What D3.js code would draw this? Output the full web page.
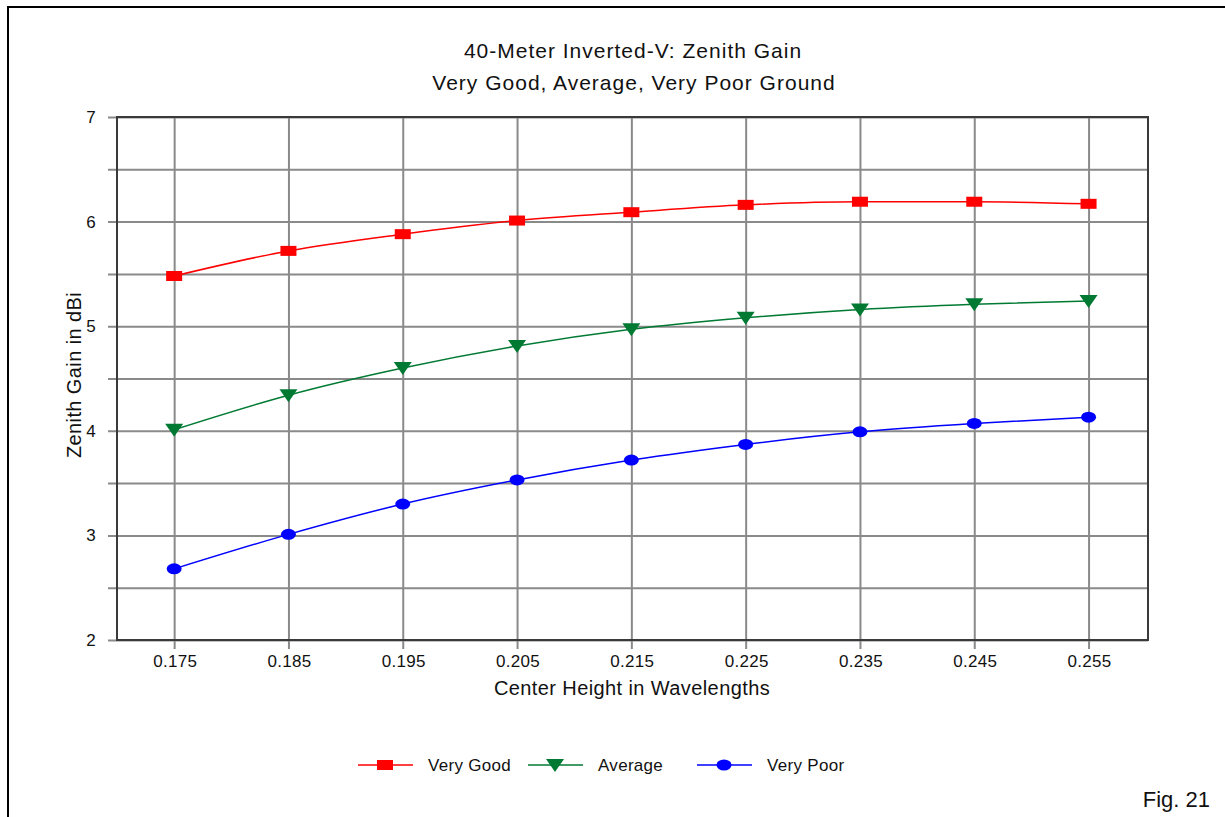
<!DOCTYPE html>
<html>
<head>
<meta charset="utf-8">
<script src="https://cdn.jsdelivr.net/npm/d3@7"></script>
<style>
  body { margin: 0; background: #fff; }
  svg { display: block; font-family: 'Liberation Sans', Arial, sans-serif; }
  .grid line { stroke: #8a8a8a; stroke-width: 2; }
  .tick-label { font-size: 17px; fill: #111; letter-spacing: 0.3px; }
</style>
</head>
<body>
<svg id="chart"></svg>
<script>
const heights = [0.175, 0.185, 0.195, 0.205, 0.215, 0.225, 0.235, 0.245, 0.255]
const veryGood = [5.48, 5.72, 5.88, 6.01, 6.09, 6.16, 6.19, 6.19, 6.17]
const average = [4.01, 4.34, 4.60, 4.81, 4.97, 5.08, 5.16, 5.21, 5.24]
const veryPoor = [2.68, 3.01, 3.30, 3.53, 3.72, 3.87, 3.99, 4.07, 4.13]
const yTicks = [2, 2.5, 3, 3.5, 4, 4.5, 5, 5.5, 6, 6.5, 7]
const yLabels = [2, 3, 4, 5, 6, 7]
const seriesNames = ['Very Good', 'Average', 'Very Poor']

const series = [
    { name: seriesNames[0], values: veryGood, color: '#ff0000', marker: 'square' },
    { name: seriesNames[1], values: average, color: '#007a33', marker: 'triangle' },
    { name: seriesNames[2], values: veryPoor, color: '#0000ff', marker: 'circle' }
]

const width = 1225
const height = 817
const plot = { left: 117, top: 117, right: 1148, bottom: 640 }

const svg = d3.select('#chart')
    .attr('width', width)
    .attr('height', height)

// outer frame (only left and top edges visible in the picture)
svg.append('path')
    .attr('d', `M8,${height + 5} L8,7 L${width + 5},7`)
    .attr('fill', 'none')
    .attr('stroke', '#000')
    .attr('stroke-width', 2)

const xScale = d3.scaleLinear()
    .domain([0.170, 0.2602])
    .range([plot.left, plot.right])

const yScale = d3.scaleLinear()
    .domain([2, 7])
    .range([plot.bottom, plot.top])

// horizontal grid lines, with small ticks sticking out left
svg.append('g')
    .attr('class', 'grid')
    .attr('transform', `translate(${plot.right},0)`)
    .call(d3.axisLeft(yScale).tickValues(yTicks).tickSize(plot.right - plot.left + 9).tickFormat(''))
    .call(g => g.select('.domain').remove())

// vertical grid lines, with small ticks below
svg.append('g')
    .attr('class', 'grid')
    .attr('transform', `translate(0,${plot.top})`)
    .call(d3.axisBottom(xScale).tickValues(heights).tickSize(plot.bottom - plot.top + 9).tickFormat(''))
    .call(g => g.select('.domain').remove())

// plot frame
svg.append('rect')
    .attr('x', plot.left)
    .attr('y', plot.top)
    .attr('width', plot.right - plot.left)
    .attr('height', plot.bottom - plot.top)
    .attr('fill', 'none')
    .attr('stroke', '#3a3a3a')
    .attr('stroke-width', 2)

// tick labels
svg.selectAll('.ylab')
    .data(yLabels)
    .enter()
    .append('text')
    .attr('class', 'tick-label')
    .attr('x', 96)
    .attr('y', d => yScale(d) + 6)
    .style('text-anchor', 'end')
    .text(d => d)

svg.selectAll('.xlab')
    .data(heights)
    .enter()
    .append('text')
    .attr('class', 'tick-label')
    .attr('x', d => xScale(d) + 1)
    .attr('y', 667)
    .style('text-anchor', 'middle')
    .text(d => d3.format('.3f')(d))

// titles
const title = svg.append('text')
    .style('text-anchor', 'middle')
    .style('font-size', '21px')
    .style('letter-spacing', '1px')
    .attr('fill', '#111')
title.append('tspan').attr('x', 633).attr('y', 58).text('40-Meter Inverted-V: Zenith Gain')
title.append('tspan').attr('x', 634).attr('y', 90).text('Very Good, Average, Very Poor Ground')

svg.append('text')
    .attr('x', 632)
    .attr('y', 695)
    .style('text-anchor', 'middle')
    .style('font-size', '20px')
    .style('letter-spacing', '0.4px')
    .attr('fill', '#111')
    .text('Center Height in Wavelengths')

svg.append('text')
    .attr('transform', `translate(81, 375) rotate(-90)`)
    .style('text-anchor', 'middle')
    .style('font-size', '20px')
    .style('letter-spacing', '0.4px')
    .attr('fill', '#111')
    .text('Zenith Gain in dBi')

svg.append('text')
    .attr('x', 1210)
    .attr('y', 807)
    .style('text-anchor', 'end')
    .style('font-size', '22px')
    .attr('fill', '#111')
    .text('Fig. 21')

const drawMarker = (g, type, color) => {
    if (type === 'square') {
        g.append('rect').attr('x', -8).attr('y', -5).attr('width', 16).attr('height', 10).attr('fill', color)
    } else if (type === 'triangle') {
        g.append('path').attr('d', 'M-9,-6 L9,-6 L0,7 Z').attr('fill', color)
    } else {
        g.append('ellipse').attr('rx', 7.5).attr('ry', 5.5).attr('fill', color)
    }
}

const lineGen = d3.line()
    .x((d, i) => xScale(heights[i]))
    .y(d => yScale(d))
    .curve(d3.curveMonotoneX)

series.forEach(s => {
    svg.append('path')
        .datum(s.values)
        .attr('d', lineGen)
        .attr('fill', 'none')
        .attr('stroke', s.color)
        .attr('stroke-width', 1.5)

    svg.selectAll(null)
        .data(s.values)
        .enter()
        .append('g')
        .attr('transform', (d, i) => `translate(${xScale(heights[i])},${yScale(d)})`)
        .each(function () { drawMarker(d3.select(this), s.marker, s.color) })
})

// legend
const legendX = [358, 528, 697]
series.forEach((s, i) => {
    const g = svg.append('g').attr('transform', `translate(${legendX[i]},765)`)
    g.append('line').attr('x1', 0).attr('x2', 55).attr('stroke', s.color).attr('stroke-width', 1.5)
    drawMarker(g.append('g').attr('transform', 'translate(27,0)'), s.marker, s.color)
    g.append('text')
        .attr('x', 70)
        .attr('y', 6)
        .style('font-size', '17px')
        .style('letter-spacing', '0.3px')
        .attr('fill', '#111')
        .text(s.name)
})
</script>
</body>
</html>
